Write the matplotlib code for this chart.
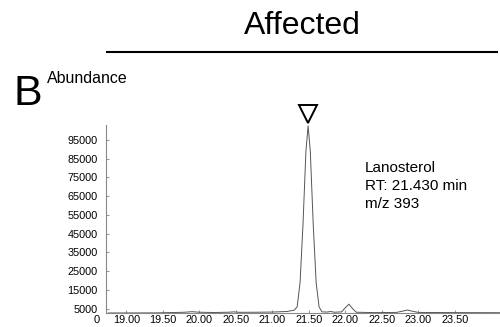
import numpy as np
import matplotlib.pyplot as plt
from matplotlib.lines import Line2D

plt.rcParams['font.family'] = ['Liberation Sans', 'DejaVu Sans']

# retention time (min) and abundance
rt = [18.75, 19.40, 19.60, 19.80, 19.90, 20.00, 20.20, 20.40, 20.47, 20.55,
      20.80, 21.00, 21.20, 21.30, 21.34, 21.38, 21.42, 21.46, 21.49, 21.52,
      21.56, 21.60, 21.64, 21.68, 21.75, 21.80, 21.85, 21.95, 22.00, 22.05,
      22.10, 22.15, 22.40, 22.70, 22.80, 22.85, 22.90, 23.00, 23.50, 24.12]
abundance = [2700, 2750, 2900, 3100, 3400, 3100, 2950, 3100, 3300, 3050,
             3100, 3200, 3500, 4200, 6000, 19000, 50000, 89000, 102500, 89000,
             50000, 19000, 6000, 3300, 3200, 3500, 3100, 3300, 5500, 7400,
             5000, 3100, 2900, 3000, 3800, 4300, 3800, 3000, 2900, 2850]

peak_rt = 21.49
peak_top = 102500

xticks = [19.00, 19.50, 20.00, 20.50, 21.00, 21.50, 22.00, 22.50, 23.00, 23.50]
yticks = [5000, 15000, 25000, 35000, 45000, 55000, 65000, 75000, 85000, 95000]

fig = plt.figure(figsize=(5, 3.27), dpi=100)
ax = fig.add_axes([0.212, 0.042, 0.788, 0.576])

ax.plot(rt, abundance, color='#555555', lw=0.7)
ax.plot([peak_rt], [peak_top + 6500], marker='v', ms=13, mfc='white', mec='black',
        mew=1.4, clip_on=False, ls='none')

ax.set_xlim(18.72, 24.12)
ax.set_ylim(2550, 103000)
ax.set_xticks(xticks)
ax.set_xticklabels(['%.2f' % t for t in xticks])
ax.set_yticks(yticks)
ax.set_yticklabels([str(t) for t in yticks])
ax.tick_params(labelsize=7.8, length=2, direction='in', color='#999999')
ax.tick_params(axis='x', pad=1.5)
ax.tick_params(axis='y', pad=6)
ax.text(-0.016, -0.036, '0', transform=ax.transAxes, ha='right', va='center', fontsize=8)

for s in ['top', 'right']:
    ax.spines[s].set_visible(False)
for s in ['left', 'bottom']:
    ax.spines[s].set_color('#888888')
    ax.spines[s].set_linewidth(0.8)

ax.text(0.657, 0.81, 'Lanosterol\nRT: 21.430 min\nm/z 393', transform=ax.transAxes,
        ha='left', va='top', fontsize=11, linespacing=1.38)

fig.text(0.604, 0.92, 'Affected', ha='center', va='center', fontsize=23)
fig.add_artist(Line2D([0.214, 0.994], [0.841, 0.841], color='black', lw=1.5))
fig.text(0.055, 0.713, 'B', ha='center', va='center', fontsize=31)
fig.text(0.094, 0.761, 'Abundance', ha='left', va='center', fontsize=11.5)

fig.savefig('out.png', dpi=100)
